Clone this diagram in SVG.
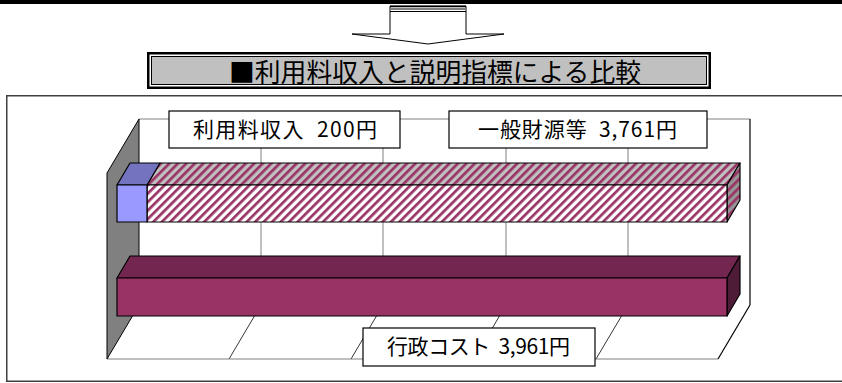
<svg xmlns="http://www.w3.org/2000/svg" width="842" height="383" viewBox="0 0 842 383">
<style>
  text { font-family: "Noto Sans CJK JP", "Liberation Sans", sans-serif; fill: #000; white-space: pre; }
  .lbl { font-size: 21px; }
  .box { fill: #fff; stroke: #000; stroke-width: 1.2; }
  .edge { stroke: #000; stroke-width: 1.2; stroke-linejoin: round; }
  .grid { stroke: #808080; stroke-width: 1; fill: none; }
  .fgrid { stroke: #000; stroke-width: 0.8; fill: none; }
</style>
<defs>
  <pattern id="hatchFront" patternUnits="userSpaceOnUse" width="6" height="6" patternTransform="rotate(45)">
    <rect width="6" height="6" fill="#fff"/>
    <rect width="2.7" height="6" fill="#993366"/>
  </pattern>
  <pattern id="hatchTop" patternUnits="userSpaceOnUse" width="6" height="6" patternTransform="rotate(45)">
    <rect width="6" height="6" fill="#c0c0c0"/>
    <rect width="2.7" height="6" fill="#993366"/>
  </pattern>
  <pattern id="hatchSide" patternUnits="userSpaceOnUse" width="6" height="6" patternTransform="rotate(45)">
    <rect width="6" height="6" fill="#969696"/>
    <rect width="2.7" height="6" fill="#993366"/>
  </pattern>
</defs>

<rect x="0" y="0" width="842" height="4" fill="#000"/>

<g id="connectors">
  <polygon points="390,6 466,6 466,34 504,34 428,44 352,34 390,34" fill="#fff" stroke="#000" stroke-width="1"/>
  <line x1="390" y1="6.5" x2="466" y2="6.5" stroke="#000" stroke-width="1.5"/>
  <line x1="390" y1="9" x2="466" y2="9" stroke="#808080" stroke-width="2"/>
  <line x1="390" y1="11.5" x2="466" y2="11.5" stroke="#000" stroke-width="1"/>
</g>

<g id="title">
  <rect x="148.25" y="53.25" width="561.5" height="34.5" fill="#fff" stroke="#000" stroke-width="2.5"/>
  <rect x="151.5" y="56.5" width="555" height="28" fill="#c0c0c0" stroke="#000" stroke-width="1"/>
  <text x="229" y="82" font-size="26" textLength="412" lengthAdjust="spacingAndGlyphs">■利用料収入と説明指標による比較</text>
</g>

<g id="chart-frame">
  <path d="M900,95.75 H6.75 V381.25 H900" fill="#fff" stroke="#404040" stroke-width="1.5"/>
</g>

<g id="plot">
  <rect x="139" y="119" width="611" height="186" fill="#fff"/>
  <line class="grid" x1="139" y1="119" x2="750" y2="119"/>
  <line class="grid" x1="261" y1="119" x2="261" y2="305"/>
  <line class="grid" x1="383" y1="119" x2="383" y2="305"/>
  <line class="grid" x1="506" y1="119" x2="506" y2="305"/>
  <line class="grid" x1="628" y1="119" x2="628" y2="305"/>
  <line class="edge" x1="750" y1="119" x2="750" y2="305"/>
  <polygon points="107,359 139,305 750,305 718,359" fill="#fff"/>
  <line class="fgrid" x1="261" y1="305" x2="229" y2="359"/>
  <line class="fgrid" x1="383" y1="305" x2="351" y2="359"/>
  <line class="fgrid" x1="506" y1="305" x2="474" y2="359"/>
  <line class="fgrid" x1="628" y1="305" x2="596" y2="359"/>
  <line class="grid" x1="107" y1="359" x2="718" y2="359"/>
  <line class="edge" x1="750" y1="305" x2="718" y2="359"/>
  <polygon points="107,173 139,119 139,305 107,359" fill="#808080" stroke="#000" stroke-width="1"/>
</g>

<g id="bar-cost">
  <polygon points="117,278 130,256 740,256 727,278" fill="#73264f" class="edge"/>
  <polygon points="727,278 740,256 740,294 727,316" fill="#4f1c38" class="edge"/>
  <rect x="117" y="278" width="610" height="38" fill="#993366" class="edge"/>
</g>

<g id="bar-revenue">
  <polygon points="147,185 160,163 740,163 727,185" fill="url(#hatchTop)" class="edge"/>
  <polygon points="727,185 740,163 740,200 727,222" fill="url(#hatchSide)" class="edge"/>
  <rect x="147" y="185" width="580" height="37" fill="url(#hatchFront)" class="edge"/>
  <polygon points="117,185 130,163 160,163 147,185" fill="#7373bf" class="edge"/>
  <rect x="117" y="185" width="30" height="37" fill="#9999ff" class="edge"/>
</g>

<g id="label-usage-fee">
  <rect class="box" x="169" y="111" width="231" height="37"/>
  <text class="lbl" x="193" y="137" textLength="184" lengthAdjust="spacing">利用料収入  200円</text>
</g>

<g id="label-general-fund">
  <rect class="box" x="449" y="111" width="258" height="37"/>
  <text class="lbl" x="478" y="137" textLength="199" lengthAdjust="spacing">一般財源等  3,761円</text>
</g>

<g id="label-admin-cost">
  <rect class="box" x="363" y="328" width="232" height="38"/>
  <text class="lbl" x="387" y="354" textLength="183" lengthAdjust="spacing">行政コスト  3,961円</text>
</g>
</svg>
